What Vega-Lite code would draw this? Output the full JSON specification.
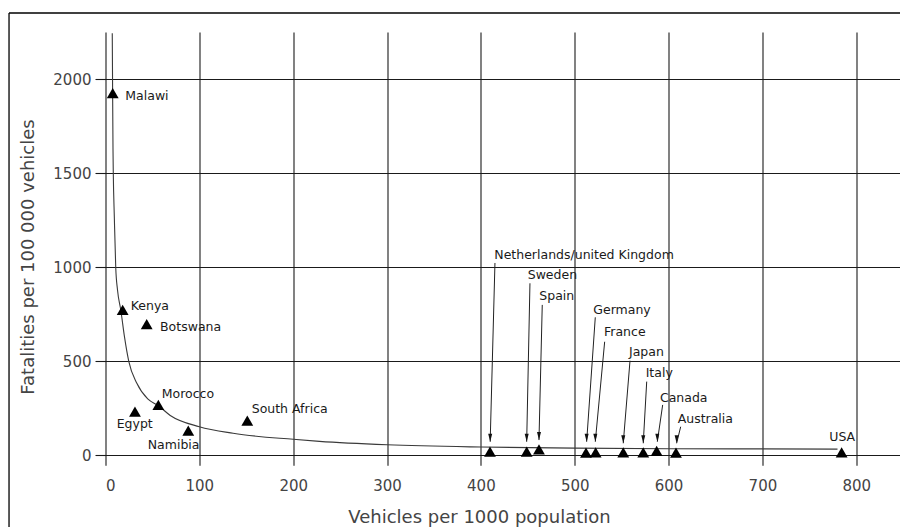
{
  "$schema": "https://vega.github.io/schema/vega-lite/v6.json",
  "width": 794.5,
  "height": 423.3,
  "autosize": {"type": "none"},
  "padding": {"left": 105.5, "top": 32, "right": 0, "bottom": 71.7},
  "background": "white",
  "config": {
    "view": {"stroke": null},
    "font": "DejaVu Sans",
    "axis": {
      "grid": true,
      "gridColor": "#1a1a1a",
      "gridWidth": 1.1,
      "gridOpacity": 1,
      "tickColor": "#1a1a1a",
      "tickWidth": 1.1,
      "domain": false,
      "labelFont": "DejaVu Sans",
      "labelFontSize": 15,
      "labelColor": "#444",
      "titleFont": "DejaVu Sans",
      "titleFontSize": 18,
      "titleFontWeight": "normal",
      "titleColor": "#444"
    }
  },
  "datasets": {
    "points": [
      {"country": "Malawi", "x": 7.7, "y": 1927},
      {"country": "Kenya", "x": 18.3, "y": 773},
      {"country": "Botswana", "x": 43.9, "y": 698},
      {"country": "Egypt", "x": 31.4, "y": 232},
      {"country": "Morocco", "x": 56.3, "y": 268},
      {"country": "Namibia", "x": 88.2, "y": 131},
      {"country": "South Africa", "x": 151.1, "y": 184},
      {"country": "Netherlands/United Kingdom", "x": 409.7, "y": 19},
      {"country": "Sweden", "x": 448.8, "y": 19},
      {"country": "Spain", "x": 461.9, "y": 32},
      {"country": "Germany", "x": 512, "y": 14},
      {"country": "France", "x": 522.3, "y": 16},
      {"country": "Japan", "x": 551.7, "y": 16},
      {"country": "Italy", "x": 573, "y": 16},
      {"country": "Canada", "x": 587.3, "y": 23},
      {"country": "Australia", "x": 607.9, "y": 14},
      {"country": "USA", "x": 784.4, "y": 16}
    ],
    "curve": [
      {"x": 7.2, "y": 2245},
      {"x": 7.5, "y": 2000},
      {"x": 8.0, "y": 1624},
      {"x": 8.3, "y": 1500},
      {"x": 9.4, "y": 1269},
      {"x": 10.9, "y": 1000},
      {"x": 12.8, "y": 879},
      {"x": 16.3, "y": 773},
      {"x": 20.2, "y": 631},
      {"x": 24.8, "y": 500},
      {"x": 33.4, "y": 383},
      {"x": 45, "y": 300},
      {"x": 56, "y": 265},
      {"x": 69, "y": 212},
      {"x": 100, "y": 152},
      {"x": 136, "y": 117},
      {"x": 200, "y": 85},
      {"x": 228, "y": 74},
      {"x": 300, "y": 56},
      {"x": 400, "y": 44},
      {"x": 500, "y": 38},
      {"x": 600, "y": 35},
      {"x": 700, "y": 34},
      {"x": 780, "y": 33}
    ],
    "labels": [
      {"label": "Malawi", "lx": 21.1, "ly": 1913},
      {"label": "Kenya", "lx": 26.9, "ly": 796},
      {"label": "Botswana", "lx": 58.1, "ly": 684},
      {"label": "Morocco", "lx": 59.9, "ly": 324},
      {"label": "Egypt", "lx": 11.9, "ly": 166},
      {"label": "Namibia", "lx": 45, "ly": 55},
      {"label": "South Africa", "lx": 155.8, "ly": 245},
      {"label": "Netherlands/united Kingdom", "lx": 414.3, "ly": 1065},
      {"label": "Sweden", "lx": 449.9, "ly": 957},
      {"label": "Spain", "lx": 462.2, "ly": 850},
      {"label": "Germany", "lx": 519.8, "ly": 773},
      {"label": "France", "lx": 531.2, "ly": 657},
      {"label": "Japan", "lx": 557.8, "ly": 549},
      {"label": "Italy", "lx": 575.6, "ly": 438},
      {"label": "Canada", "lx": 590.8, "ly": 305},
      {"label": "Australia", "lx": 609.7, "ly": 191},
      {"label": "USA", "lx": 771.2, "ly": 99}
    ],
    "arrows": [
      {"country": "Netherlands/United Kingdom", "x1": 415, "y1": 1023, "x2": 409.9, "y2": 72},
      {"country": "Sweden", "x1": 452.3, "y1": 915, "x2": 448.8, "y2": 72},
      {"country": "Spain", "x1": 465.4, "y1": 800, "x2": 461.9, "y2": 81},
      {"country": "Germany", "x1": 521.9, "y1": 734, "x2": 512.7, "y2": 72},
      {"country": "France", "x1": 531.9, "y1": 604, "x2": 521.9, "y2": 72},
      {"country": "Japan", "x1": 558.9, "y1": 503, "x2": 551.7, "y2": 64},
      {"country": "Italy", "x1": 576.7, "y1": 392, "x2": 573, "y2": 64},
      {"country": "Canada", "x1": 593.7, "y1": 268, "x2": 588, "y2": 72},
      {"country": "Australia", "x1": 612.9, "y1": 152, "x2": 608.6, "y2": 64}
    ],
    "frame": [{"id": 1}]
  },
  "layer": [
    {
      "data": {"name": "curve"},
      "mark": {"type": "line", "color": "#3a3a3a", "strokeWidth": 1.1, "interpolate": "monotone"},
      "encoding": {
        "x": {
          "field": "x", "type": "quantitative",
          "scale": {"domain": [0, 846.6], "nice": false, "zero": false},
          "axis": {
            "values": [0, 100, 200, 300, 400, 500, 600, 700, 800],
            "format": "d",
            "tickSize": 10,
            "labelPadding": 13,
            "title": "Vehicles per 1000 population",
            "titleX": 373.5,
            "titleY": 61.7,
            "titleBaseline": "middle",
            "titleAlign": "center"
          }
        },
        "y": {
          "field": "y", "type": "quantitative",
          "scale": {"domain": [0, 2251.6], "nice": false, "zero": false},
          "axis": {
            "values": [0, 500, 1000, 1500, 2000],
            "format": "d",
            "tickSize": 10.5,
            "labelPadding": 4,
            "title": "Fatalities per 100 000 vehicles",
            "titleX": -77,
            "titleY": 224.5,
            "titleBaseline": "middle",
            "titleAlign": "center",
            "titleAngle": 270
          }
        }
      }
    },
    {
      "data": {"name": "arrows"},
      "mark": {"type": "rule", "color": "#222", "strokeWidth": 1},
      "encoding": {
        "x": {"field": "x1", "type": "quantitative"},
        "y": {"field": "y1", "type": "quantitative"},
        "x2": {"field": "x2"},
        "y2": {"field": "y2"}
      }
    },
    {
      "data": {"name": "arrows"},
      "mark": {"type": "point", "shape": "M0,0 L-0.5,-2 L0.5,-2 Z", "filled": true, "color": "#111", "opacity": 1, "size": 64},
      "encoding": {
        "x": {"field": "x2", "type": "quantitative"},
        "y": {"field": "y2", "type": "quantitative"}
      }
    },
    {
      "data": {"name": "points"},
      "mark": {"type": "point", "shape": "triangle-up", "filled": true, "color": "#000", "opacity": 1, "size": 140},
      "encoding": {
        "x": {"field": "x", "type": "quantitative"},
        "y": {"field": "y", "type": "quantitative"}
      }
    },
    {
      "data": {"name": "labels"},
      "mark": {"type": "text", "align": "left", "baseline": "middle", "font": "DejaVu Sans", "fontSize": 12.5, "color": "#1a1a1a"},
      "encoding": {
        "x": {"field": "lx", "type": "quantitative"},
        "y": {"field": "ly", "type": "quantitative"},
        "text": {"field": "label"}
      }
    },
    {
      "data": {"name": "frame"},
      "mark": {"type": "rule", "color": "#000", "strokeWidth": 1.3},
      "encoding": {
        "x": {"datum": -102.8, "type": "quantitative"},
        "y": {"datum": 2352.6, "type": "quantitative"},
        "y2": {"datum": -420}
      }
    },
    {
      "data": {"name": "frame"},
      "mark": {"type": "rule", "color": "#000", "strokeWidth": 1.3},
      "encoding": {
        "x": {"datum": -102.8, "type": "quantitative"},
        "x2": {"datum": 900},
        "y": {"datum": 2352.6, "type": "quantitative"}
      }
    }
  ]
}
